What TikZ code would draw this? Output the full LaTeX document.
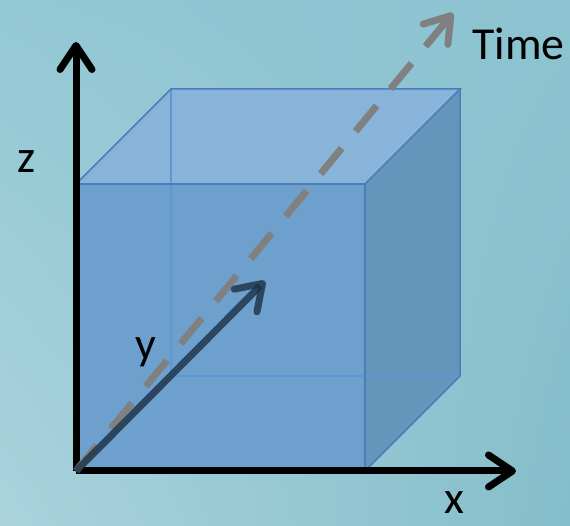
\documentclass[tikz,border=0pt]{standalone}
\usepackage{fontspec}
\setmainfont{Carlito}
\usepackage{xcolor}
\usetikzlibrary{arrows.meta, shadings}

\definecolor{bgll}{RGB}{170,211,221}
\definecolor{bgul}{RGB}{146,200,212}
\definecolor{bgur}{RGB}{140,195,208}
\definecolor{bglr}{RGB}{132,190,202}
\definecolor{frontc}{RGB}{110,160,205}
\definecolor{topc}{RGB}{135,180,216}
\definecolor{sidec}{RGB}{100,150,188}
\definecolor{edgec}{RGB}{75,125,185}
\definecolor{hiddenc}{RGB}{95,150,212}
\definecolor{timec}{RGB}{128,128,128}
\definecolor{yaxc}{RGB}{28,48,68}

\begin{document}
\begin{tikzpicture}[
    x=1bp, y=1bp,
    axis/.style={line width=7bp, -{Straight Barb[length=24bp, width=32bp, round]}},
    edge/.style={draw=edgec, line width=1.5bp},
    hidden/.style={draw=hiddenc, line width=1.5bp},
    lbl/.style={font=\fontsize{46}{52}\selectfont, inner sep=0pt},
  ]
  % 背景
  \shade[lower left=bgll, upper left=bgul, upper right=bgur, lower right=bglr]
    (0,0) rectangle (570,526);
  \useasboundingbox (0,0) rectangle (570,526);

  % 立方体顶点
  \coordinate (O) at (76,55);
  \coordinate (fbr) at (365,55);
  \coordinate (ftr) at (365,342);
  \coordinate (ftl) at (76,342);
  \coordinate (bbl) at (171,150);
  \coordinate (bbr) at (460,150);
  \coordinate (btr) at (460,437);
  \coordinate (btl) at (171,437);

  % 面
  \fill[frontc] (O) -- (fbr) -- (ftr) -- (ftl) -- cycle;
  \fill[topc] (ftl) -- (btl) -- (btr) -- (ftr) -- cycle;
  \fill[sidec] (fbr) -- (bbr) -- (btr) -- (ftr) -- cycle;

  % 棱
  \draw[hidden] (bbl) -- (btl);
  \draw[hidden] (bbl) -- (bbr);
  \draw[hidden] (O) -- (bbl);
  \draw[edge] (O) -- (fbr) -- (ftr) -- (ftl) -- cycle;
  \draw[edge] (ftl) -- (btl) -- (btr) -- (ftr);
  \draw[edge] (fbr) -- (bbr) -- (btr);

  % 坐标轴
  \coordinate (ztip) at (76,484);
  \coordinate (xtip) at (516,55);
  \coordinate (ttip) at (453,513);
  \coordinate (ytip) at (265,245);
  \draw[axis] (O) -- (ztip);
  \draw[axis] (O) -- (xtip);
  \draw[axis, timec, dash pattern=on 33bp off 22bp] (O) -- (ttip);
  \draw[axis, yaxc, opacity=0.8] (O) -- (ytip);

  % 标签
  \node[lbl, anchor=base] (zl) at (27,353) {z};
  \node[lbl, anchor=base] (xl) at (454,12) {x};
  \node[lbl, anchor=base] (yl) at (146,166) {y};
  \node[lbl, anchor=base west] (tl) at (472,466) {Time};
\end{tikzpicture}
\end{document}
